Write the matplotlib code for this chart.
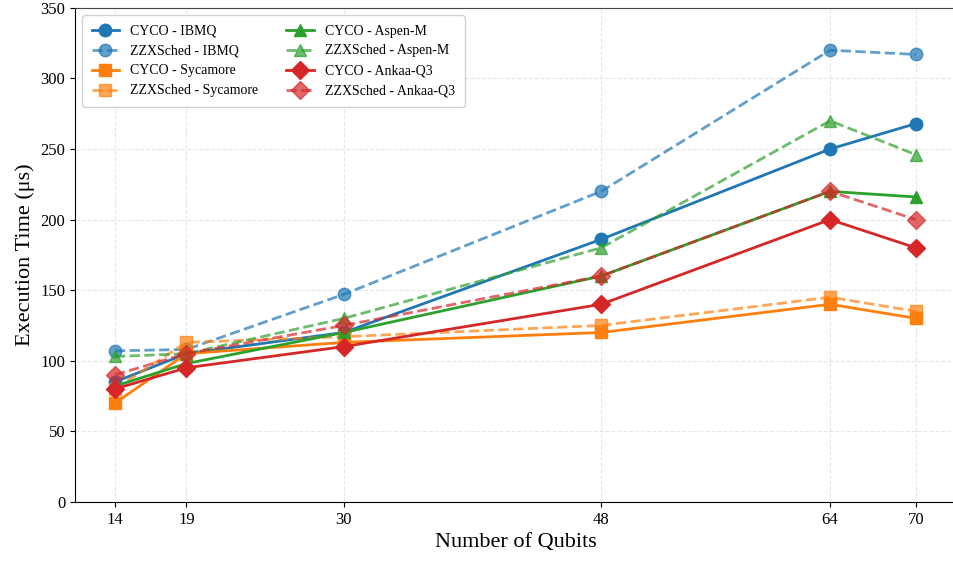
import matplotlib
matplotlib.use("Agg")
import matplotlib.pyplot as plt

plt.rcParams['font.family'] = ['Liberation Serif', 'DejaVu Serif']

# ============================================================
# Data
# ============================================================
qubits = [14, 19, 30, 48, 64, 70]

cyco_ibmq = [85, 105, 120, 186, 250, 268]
zzx_ibmq = [107, 108, 147, 220, 320, 317]
cyco_sycamore = [70, 105, 113, 120, 140, 130]
zzx_sycamore = [80, 113, 117, 125, 145, 135]
cyco_aspen = [82, 98, 120, 160, 220, 216]
zzx_aspen = [103, 105, 130, 180, 270, 246]
cyco_ankaa = [80, 95, 110, 140, 200, 180]
zzx_ankaa = [90, 105, 125, 160, 220, 200]

series = [
    ("CYCO - IBMQ", cyco_ibmq, "#1f77b4", "o", "-", 1.0),
    ("ZZXSched - IBMQ", zzx_ibmq, "#1f77b4", "o", "--", 0.7),
    ("CYCO - Sycamore", cyco_sycamore, "#ff7f0e", "s", "-", 1.0),
    ("ZZXSched - Sycamore", zzx_sycamore, "#ff7f0e", "s", "--", 0.7),
    ("CYCO - Aspen-M", cyco_aspen, "#2ca02c", "^", "-", 1.0),
    ("ZZXSched - Aspen-M", zzx_aspen, "#2ca02c", "^", "--", 0.7),
    ("CYCO - Ankaa-Q3", cyco_ankaa, "#d62728", "D", "-", 1.0),
    ("ZZXSched - Ankaa-Q3", zzx_ankaa, "#d62728", "D", "--", 0.7),
]

fig, ax = plt.subplots(figsize=(9.54, 5.62), dpi=100)
fig.subplots_adjust(left=0.0785, right=1.002, bottom=0.107, top=0.986)

for label, vals, color, marker, ls, alpha in series:
    ax.plot(qubits, vals, color=color, marker=marker, linestyle=ls, alpha=alpha,
            linewidth=2, markersize=9, label=label)

ax.set_xticks(qubits)
ax.set_ylim(0, 350)
ax.set_xlabel("Number of Qubits", fontsize=16)
ax.set_ylabel("Execution Time (μs)", fontsize=16)
ax.tick_params(labelsize=12)
ax.grid(True, linestyle="--", alpha=0.3)
ax.spines["top"].set_color("#444444")
ax.spines["right"].set_visible(False)
ax.legend(ncol=2, fontsize=10, loc="upper left", framealpha=0.9,
          borderpad=0.7)

plt.savefig("out.png", dpi=100)
